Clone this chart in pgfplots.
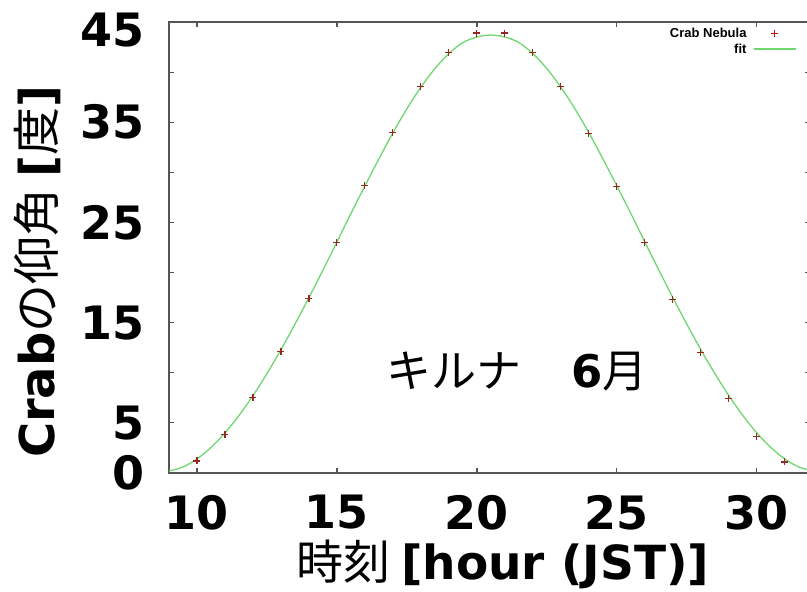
\documentclass[border=0pt]{standalone}
\usepackage{fontspec}
\usepackage{pgfplots}
\pgfplotsset{compat=1.18}
\newfontfamily\dv{DejaVu Sans}
\newfontfamily\cjk{Noto Sans CJK JP}
\newfontfamily\lib{Liberation Sans}
\definecolor{fitgreen}{RGB}{110,215,110}
\definecolor{ptred}{RGB}{150,40,35}
\definecolor{bord}{RGB}{85,85,85}
\pgfplotsset{
  fitleg/.style={legend image code/.code={\draw[##1] (0bp,0bp) -- (42bp,0bp);}},
  ptleg/.style={legend image code/.code={\draw[##1, draw=red!85!black] plot coordinates {(20bp,0bp)};}},
}
\begin{document}
\begin{tikzpicture}
\begin{axis}[
  scale only axis, width=641bp, height=451bp,
  xmin=9, xmax=31.9, ymin=0, ymax=45,
  xtick={10,15,20,25,30},
  xticklabels={10,15,20,25,30},
  ytick={0,5,10,15,20,25,30,35,40,45},
  yticklabels={0,5,,15,,25,,35,,\raisebox{-8bp}[\height][\depth]{45}},
  tick align=inside, major tick length=5bp,
  tick style={bord, line width=1.2bp},
  axis line style={bord, line width=1.6bp},
  xticklabel style={font=\fontsize{46bp}{50bp}\selectfont\dv\bfseries, inner sep=0pt, anchor=north, yshift=-22bp},
  yticklabel style={font=\fontsize{46bp}{50bp}\selectfont\dv\bfseries, inner sep=0pt, anchor=east, xshift=-24bp},
  xlabel={\cjk 時刻 \dv\bfseries[hour (JST)]},
  xlabel style={font=\fontsize{47bp}{52bp}\selectfont, at={(axis description cs:0.521,-0.203)}, anchor=center, inner sep=0pt},
  ylabel={\dv\bfseries Crab\cjk\mdseries の仰角 \dv\bfseries[\cjk\mdseries 度\dv\bfseries]},
  ylabel style={font=\fontsize{48bp}{52bp}\selectfont, at={(axis description cs:-0.205,0.446)}, anchor=center, inner sep=0pt},
  legend style={at={(axis description cs:1,1)}, anchor=north east, xshift=-13bp, yshift=-5bp,
    draw=none, fill=none, font=\fontsize{13bp}{14bp}\selectfont\lib\bfseries,
    row sep=2.5bp, column sep=6bp, inner sep=0pt, nodes={inner sep=1bp}},
  legend cell align=right,
  legend plot pos=right,
  reverse legend,
]
\addplot[fitgreen, line width=1.3bp, smooth, fitleg] coordinates {
 (9,0.2) (9.5,0.6) (10,1.4) (10.5,2.55) (11,4.0) (11.5,5.74) (12,7.72) (12.5,9.92)
 (13,12.3) (13.5,14.85) (14,17.5) (14.5,20.25) (15,23.05) (15.5,25.9) (16,28.65)
 (16.5,31.35) (17,33.95) (17.5,36.35) (18,38.5) (18.5,40.35) (19,41.85) (19.5,42.95)
 (20,43.5) (20.5,43.7) (21,43.5) (21.5,42.95) (22,41.85) (22.5,40.35) (23,38.5)
 (23.5,36.35) (24,33.95) (24.5,31.35) (25,28.65) (25.5,25.9) (26,23.05) (26.5,20.25)
 (27,17.5) (27.5,14.85) (28,12.3) (28.5,9.92) (29,7.72) (29.5,5.74) (30,4.0)
 (30.5,2.55) (31,1.4) (31.5,0.6) (32,0.2)
};
\addlegendentry{fit}
\addplot[only marks, mark=+, mark size=3.5bp, ptred, mark options={line width=1.1bp}, ptleg] coordinates {
 (10,1.2) (11,3.8) (12,7.5) (13,12.1) (14,17.4) (15,23.0) (16,28.7) (17,34.0)
 (18,38.6) (19,42.0) (20,43.9) (21,43.9) (22,42.0) (23,38.6) (24,33.9) (25,28.6)
 (26,23.0) (27,17.3) (28,12.0) (29,7.4) (30,3.6) (31,1.1)
};
\addlegendentry{Crab Nebula}
\node[font=\fontsize{45bp}{50bp}\selectfont, inner sep=0pt] at (axis cs:21.43,10.1)
  {\cjk キルナ\hspace{1.1em}\dv\bfseries 6\cjk\mdseries 月};
\end{axis}
\pgfresetboundingbox
\path[use as bounding box] (current axis.south west) ++(-169bp,-119bp) rectangle ++(807bp,592bp);
\end{tikzpicture}
\end{document}
